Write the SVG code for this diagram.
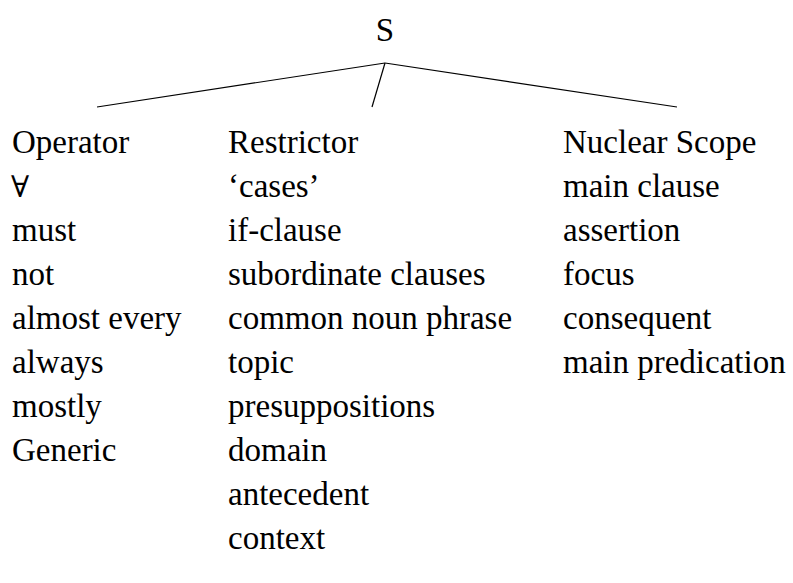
<svg xmlns="http://www.w3.org/2000/svg" width="793" height="583" viewBox="0 0 793 583">
<style>
text{font-family:"Liberation Serif","Times New Roman",serif;font-size:33px;fill:#000}
.sym{font-family:"DejaVu Serif","Liberation Serif",serif;font-size:30px;font-weight:200}
.edge{stroke:#000;stroke-width:1.2;fill:none}
</style>
<rect width="793" height="583" fill="#fff"/>
<g id="connectors">
<line class="edge" x1="385" y1="63" x2="97" y2="107"/>
<line class="edge" x1="385" y1="63" x2="372" y2="107"/>
<line class="edge" x1="385" y1="63" x2="677" y2="107"/>
</g>
<g id="S"><text x="385" y="41" text-anchor="middle">S</text></g>
<g id="operator">
<text x="12" y="153">Operator</text>
<text class="sym" x="11" y="197">∀</text>
<text x="12" y="241">must</text>
<text x="12" y="285">not</text>
<text x="12" y="329">almost every</text>
<text x="12" y="373">always</text>
<text x="12" y="417">mostly</text>
<text x="12" y="461">Generic</text>
</g>
<g id="restrictor">
<text x="228" y="153">Restrictor</text>
<text x="228" y="197">‘cases’</text>
<text x="228" y="241">if-clause</text>
<text x="228" y="285">subordinate clauses</text>
<text x="228" y="329">common noun phrase</text>
<text x="228" y="373">topic</text>
<text x="228" y="417">presuppositions</text>
<text x="228" y="461">domain</text>
<text x="228" y="505">antecedent</text>
<text x="228" y="549">context</text>
</g>
<g id="nuclear-scope">
<text x="563" y="153">Nuclear Scope</text>
<text x="563" y="197">main clause</text>
<text x="563" y="241">assertion</text>
<text x="563" y="285">focus</text>
<text x="563" y="329">consequent</text>
<text x="563" y="373">main predication</text>
</g>
</svg>
